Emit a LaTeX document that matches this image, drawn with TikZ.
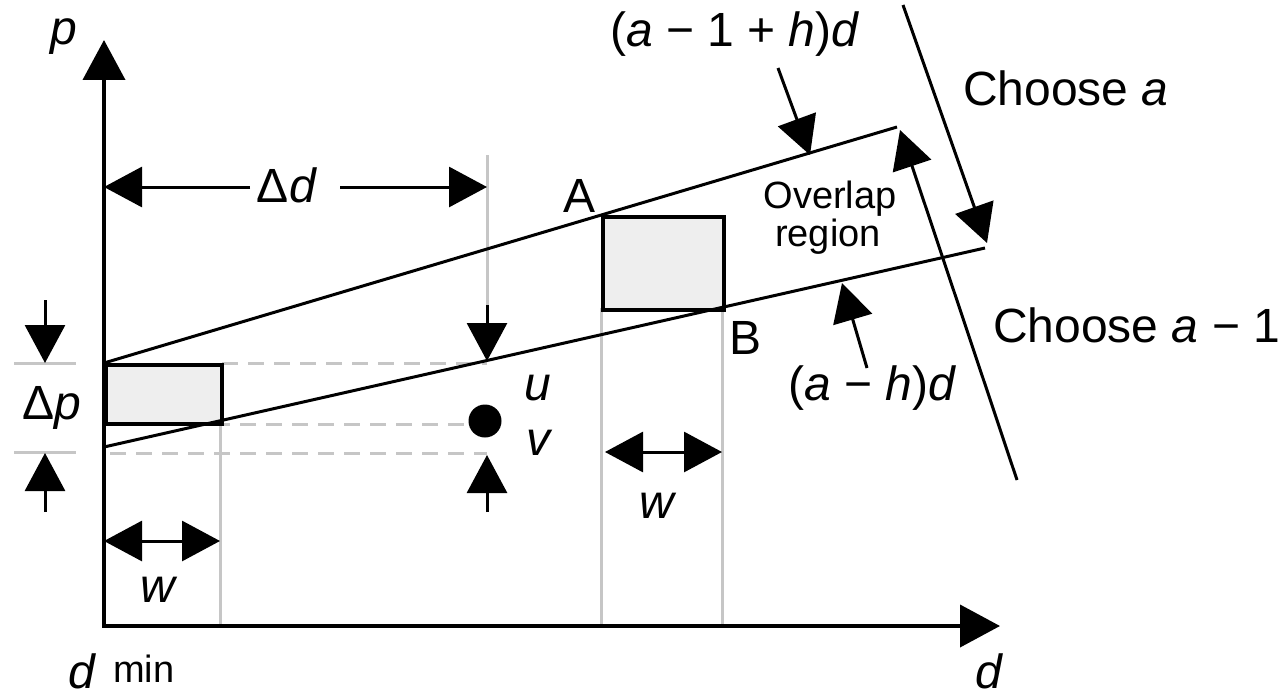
\documentclass[tikz,border=0pt]{standalone}
\usepackage{fontspec}
\setmainfont{Liberation Sans}
\usetikzlibrary{arrows.meta}
\begin{document}
\begin{tikzpicture}[x=1pt,y=-1pt,
  axisln/.style={line width=4pt,{Triangle[length=40pt,width=42pt]}-{Triangle[length=40pt,width=42pt]}},
  arr/.style={line width=3pt,-{Triangle[length=38pt,width=40pt]}},
  darr/.style={line width=3pt,{Triangle[length=38pt,width=40pt]}-{Triangle[length=38pt,width=40pt]}},
  thin/.style={line width=3pt,black},
  guide/.style={line width=3pt,draw=gray!45},
  dashln/.style={line width=3pt,draw=gray!45,dash pattern=on 16pt off 10pt},
  shadebox/.style={draw=black,line width=3.5pt,fill=gray!13},
  lab/.style={inner sep=0pt,font=\fontsize{48}{56}\selectfont},
  smalllab/.style={inner sep=0pt,font=\fontsize{38}{44}\selectfont}
]
\useasboundingbox (0,0) rectangle (1279,698);

% key points
\coordinate (O) at (104,626);
\coordinate (ytip) at (104,40);
\coordinate (xtip) at (1000,626);
\coordinate (U0) at (104,363);
\coordinate (U1) at (897,127);
\coordinate (L0) at (104,447);
\coordinate (L1) at (985,248);

% gray guides
\draw[guide] (220,422) coordinate (g1t) -- (220,626) coordinate (g1b);
\draw[guide] (601,308) coordinate (g2t) -- (601,626) coordinate (g2b);
\draw[guide] (722,308) coordinate (g3t) -- (722,626) coordinate (g3b);
\draw[guide] (487,155) coordinate (g4t) -- (487,305) coordinate (g4b);
\draw[guide] (14,363) coordinate (t1a) -- (76,363) coordinate (t1b);
\draw[guide] (14,452) coordinate (t2a) -- (76,452) coordinate (t2b);

% dashed
\draw[dashln] (222,363) coordinate (d1a) -- (487,363) coordinate (d1b);
\draw[dashln] (110,424) coordinate (d2a) -- (465,424) coordinate (d2b);
\draw[dashln] (110,453) coordinate (d3a) -- (487,453) coordinate (d3b);

% shaded boxes
\node[shadebox,minimum width=116pt,minimum height=59pt,inner sep=0pt,anchor=north west] (boxL) at (104,363) {};
\node[shadebox,minimum width=121pt,minimum height=93pt,inner sep=0pt,anchor=north west] (boxR) at (601,215) {};

% sloped lines
\draw[thin] (U0) -- (U1);
\draw[thin] (L0) -- (L1);

% axes
\draw[axisln] (ytip) -- (O) -- (xtip);

% point
\node[circle,fill=black,minimum size=33pt,inner sep=0pt] (pt) at (485,421) {};

% Delta p
\coordinate (dpa) at (45,300); \coordinate (dpb) at (45,363);
\coordinate (dpc) at (45,512); \coordinate (dpd) at (45,453);
\draw[arr] (dpa) -- (dpb);
\draw[arr] (dpc) -- (dpd);
\node[lab,anchor=base] (dp) at (52,419) {Δ\textit{p}};

% Delta d
\coordinate (dda) at (250,187); \coordinate (ddb) at (104,187);
\coordinate (ddc) at (340,187); \coordinate (ddd) at (487,187);
\draw[arr] (dda) -- (ddb);
\draw[arr] (ddc) -- (ddd);
\node[lab,anchor=base] (dd) at (287,202) {Δ\textit{d}};

% u, v arrows
\coordinate (ua) at (487,305); \coordinate (ub) at (487,361);
\coordinate (va) at (487,512); \coordinate (vb) at (487,455);
\draw[arr] (ua) -- (ub);
\draw[arr] (va) -- (vb);
\node[lab,anchor=base] (u) at (538,400) {\textit{u}};
\node[lab,anchor=base] (v) at (540,455) {\textit{v}};

% w arrows
\coordinate (w1a) at (104,541); \coordinate (w1b) at (220,541);
\coordinate (w2a) at (605,452); \coordinate (w2b) at (722,452);
\draw[darr] (w1a) -- (w1b);
\draw[darr] (w2a) -- (w2b);
\node[lab,anchor=base] (w1) at (159,602) {\textit{w}};
\node[lab,anchor=base] (w2) at (658,518) {\textit{w}};

% A, B
\node[lab,anchor=base] (A) at (580,212) {A};
\node[lab,anchor=base west] (B) at (729,354) {B};

% overlap
\node[smalllab,anchor=base] (ov1) at (830,208) {Overlap};
\node[smalllab,anchor=base] (ov2) at (828,246) {region};

% line labels
\node[lab,anchor=base west] (ltop) at (610,47) {(\textit{a} − 1 + \textit{h})\textit{d}};
\node[lab,anchor=base west] (lbot) at (788,400) {(\textit{a} − \textit{h})\textit{d}};
\coordinate (la1) at (778,68); \coordinate (lb1) at (810,155);
\coordinate (la2) at (867,368); \coordinate (lb2) at (842,283);
\draw[arr] (la1) -- (lb1);
\draw[arr] (la2) -- (lb2);

% choose
\node[lab,anchor=base west] (cha) at (963,106) {Choose \textit{a}};
\node[lab,anchor=base west] (chb) at (993,342) {Choose \textit{a} − 1};
\coordinate (c1a) at (903,5); \coordinate (c1b) at (987,243);
\coordinate (c2a) at (1017,480); \coordinate (c2b) at (900,130);
\draw[arr] (c1a) -- (c1b);
\draw[arr] (c2a) -- (c2b);

% axis labels
\node[lab,anchor=base west] (plab) at (50,45) {\textit{p}};
\node[lab,anchor=base west] (dlab) at (975,688) {\textit{d}};
\node[lab,anchor=base west] (dmin) at (68,688) {\textit{d}};
\node[inner sep=0pt,font=\fontsize{38}{44}\selectfont,anchor=base west] (minlab) at (113,682) {min};
\end{tikzpicture}
\end{document}
